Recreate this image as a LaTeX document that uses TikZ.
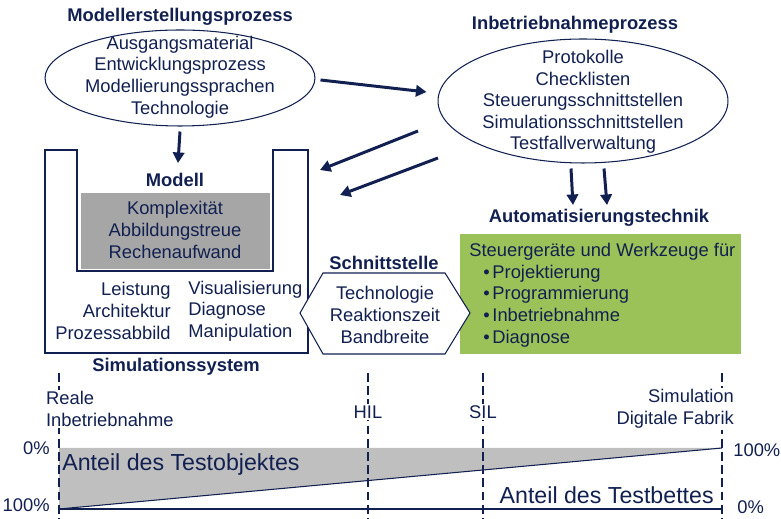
\documentclass[tikz,border=0pt]{standalone}
\usepackage{fontspec}
\setmainfont{Liberation Sans}
\usetikzlibrary{shapes.geometric,arrows.meta}
\definecolor{navy}{RGB}{17,32,80}
\definecolor{boxgray}{RGB}{166,166,166}
\definecolor{areagray}{RGB}{191,191,191}
\definecolor{autogreen}{RGB}{155,194,88}

\begin{document}
\begin{tikzpicture}[x=0.02cm,y=-0.02cm,
  txt/.style={text=navy, align=center, font=\fontsize{10.45}{12.3}\selectfont, inner sep=0pt},
  title/.style={text=navy, font=\fontsize{10.45}{12.3}\selectfont\bfseries, inner sep=0pt},
  frame/.style={draw=navy, line width=0.6pt},
  bigarrow/.style={draw=navy, line width=1.7pt, -{Triangle[length=6pt,width=6.5pt]}},
  marker/.style={draw=navy, line width=1.5pt, dash pattern=on 5pt off 2.5pt},
  lbl/.style={text=navy, font=\fontsize{10.45}{12.3}\selectfont, inner sep=1pt, fill=white},
  big/.style={text=navy, font=\fontsize{13.2}{15}\selectfont, inner sep=0pt}]
\useasboundingbox (0,0) rectangle (781,519);

% Modellerstellungsprozess
\node[title] (proctitle) at (180,17) {Modellerstellungsprozess};
\node[ellipse, frame, minimum width=5.4cm, minimum height=1.92cm] (proc) at (180,78) {};
\node[txt] (proctxt) at (180,77) {Ausgangsmaterial\\Entwicklungsprozess\\Modellierungssprachen\\Technologie};

% Inbetriebnahmeprozess
\node[title] (ibtitle) at (575,25) {Inbetriebnahmeprozess};
\node[ellipse, frame, minimum width=5.8cm, minimum height=2.48cm] (ib) at (583,101) {};
\node[txt] (ibtxt) at (583,102) {Protokolle\\Checklisten\\Steuerungsschnittstellen\\Simulationsschnittstellen\\Testfallverwaltung};

% Simulationssystem
\draw[frame] (45,150) -- (77,150) -- (77,271) -- (273,271) -- (273,150) -- (308,150) -- (308,353) -- (45,353) -- cycle;
\node[title] (modelltitle) at (175,180) {Modell};
\node[fill=boxgray, minimum width=3.78cm, minimum height=1.52cm, inner sep=0pt] (modellbox) at (175.5,231) {};
\node[txt] (modelltxt) at (175,230) {Komplexität\\Abbildungstreue\\Rechenaufwand};
\node[txt, align=right, anchor=east] (simleft) at (171,311) {Leistung\\Architektur\\Prozessabbild};
\node[txt, align=left, anchor=west] (simright) at (188,311) {Visualisierung\\Diagnose\\Manipulation};
\node[title] (simtitle) at (176,367) {Simulationssystem};

% Automatisierungstechnik
\node[title] (autotitle) at (599,218) {Automatisierungstechnik};
\node[fill=autogreen, minimum width=5.62cm, minimum height=2.4cm, inner sep=0pt] (autobox) at (600.5,294) {};
\node[txt, align=left, anchor=north west] (autotxt) at (469,243) {Steuergeräte und Werkzeuge für\\
  \hspace*{0.28cm}\textbullet\hspace{1.5pt}Projektierung\\
  \hspace*{0.28cm}\textbullet\hspace{1.5pt}Programmierung\\
  \hspace*{0.28cm}\textbullet\hspace{1.5pt}Inbetriebnahme\\
  \hspace*{0.28cm}\textbullet\hspace{1.5pt}Diagnose};

% Schnittstelle
\draw[frame, fill=white] (300,313) -- (323,273) -- (445,273) -- (470,313) -- (445,354) -- (323,354) -- cycle;
\node[title] (sstitle) at (384,263) {Schnittstelle};
\node[txt] (sstxt) at (385,315) {Technologie\\Reaktionszeit\\Bandbreite};

% Pfeile
\coordinate (modellin) at (178,163);
\coordinate (simin1) at (320,170);
\coordinate (simin2) at (340,195);
\draw[bigarrow] ([yshift=-0.1cm]proc.south) -- (modellin);
\draw[bigarrow] ([shift={(5,2)}]proc.east) -- ([shift={(-11,-9)}]ib.west);
\draw[bigarrow] ([shift={(-165,30)}]ib.center) -- (simin1);
\draw[bigarrow] ([shift={(-145,57)}]ib.center) -- (simin2);
\draw[bigarrow] ([shift={(-12,5)}]ib.south) -- ([shift={(-26,-13)}]autotitle.center);
\draw[bigarrow] ([shift={(21,5)}]ib.south) -- ([shift={(8,-13)}]autotitle.center);

% Anteile
\coordinate (p0) at (59,448);
\coordinate (p1) at (722,448);
\coordinate (q0) at (59,509);
\coordinate (q1) at (722,509);
\fill[areagray] (p0) -- (p1) -- (q0) -- cycle;
\draw[navy, line width=0.6pt] (q0) -- (p1);
\draw[navy, line width=1pt] (q0) -- (q1);

% Stufen
\foreach \xs in {59,368,483,722}
  \draw[marker] (\xs,373) -- (\xs,519);
\node[lbl, align=left, anchor=west] (reale) at (44,409) {Reale\\Inbetriebnahme};
\node[lbl] (hil) at (368,412) {HIL};
\node[lbl] (sil) at (483,412) {SIL};
\node[lbl, align=right, anchor=east] (digfab) at (736,409) {Simulation\\Digitale Fabrik};

\node[txt, anchor=east] (lo0) at (50,448) {0\%};
\node[txt, anchor=east] (lo100) at (50,505) {100\%};
\node[txt, anchor=west] (ro100) at (733,450) {100\%};
\node[txt, anchor=west] (ro0) at (737,507) {0\%};
\node[big, anchor=west] (objekt) at (62,465) {Anteil des Testobjektes};
\node[big, anchor=east] (bett) at (714,495) {Anteil des Testbettes};
\end{tikzpicture}
\end{document}
